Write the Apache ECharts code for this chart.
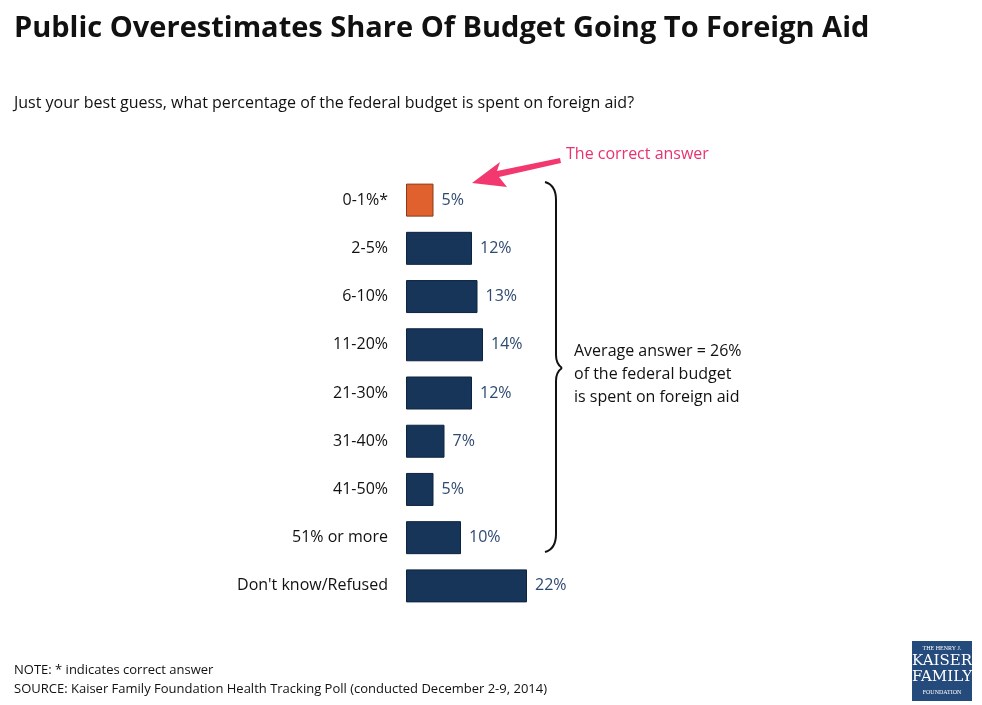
<!DOCTYPE html><html><head><meta charset="utf-8">
<script src="https://cdn.jsdelivr.net/npm/echarts@6/dist/echarts.min.js"></script>
<style>html,body{margin:0;padding:0;background:#fff}#c{width:982px;height:705px}</style></head><body><div id="c"></div>
<script>
const categories=['0-1%*','2-5%','6-10%','11-20%','21-30%','31-40%','41-50%','51% or more',"Don't know/Refused"];
const values=[5,12,13,14,12,7,5,10,22];
const correctIndex=0;
const font='"Open Sans", "Noto Sans", sans-serif';
const chart=echarts.init(document.getElementById('c'));
const st={stroke:'#111',lineWidth:2,fill:null};
chart.setOption({
 animation:false,
 grid:{left:406,top:176,width:220,height:434},
 xAxis:{type:'value',min:0,max:40,show:false},
 yAxis:{type:'category',data:categories,inverse:true,axisLine:{show:false},axisTick:{show:false},
  axisLabel:{color:'#111',fontSize:16,fontFamily:font,margin:18}},
 series:[{type:'bar',barWidth:33,
  data:values.map((v,i)=>({value:v,itemStyle:{color:i===correctIndex?'#e0602e':'#163558',borderColor:i===correctIndex?'#8a3a1a':'#0d2440',borderWidth:1}})),
  label:{show:true,position:'right',distance:8,formatter:'{c}%',color:'#2e4a70',fontSize:16,fontFamily:font}}],
 graphic:[
  {type:'text',x:14,y:14,style:{text:'Public Overestimates Share Of Budget Going To Foreign Aid',font:'bold 29px '+font,fill:'#111'}},
  {type:'text',x:14,y:95,style:{text:'Just your best guess, what percentage of the federal budget is spent on foreign aid?',font:'16px '+font,fill:'#111'}},
  {type:'text',x:566,y:146,style:{text:'The correct answer',font:'16px '+font,fill:'#e8336e'}},
  {type:'polygon',shape:{points:[[472,183],[500,162],[497,171],[560,158],[561,163],[499,177],[507,187]]},style:{fill:'#f2386f'}},
  {type:'bezierCurve',shape:{x1:545,y1:182,x2:556,y2:200,cpx1:556,cpy1:185},style:st},
  {type:'line',shape:{x1:556,y1:200,x2:556,y2:355},style:st},
  {type:'bezierCurve',shape:{x1:556,y1:355,x2:562,y2:368,cpx1:556,cpy1:364},style:st},
  {type:'bezierCurve',shape:{x1:562,y1:368,x2:556,y2:381,cpx1:556,cpy1:372},style:st},
  {type:'line',shape:{x1:556,y1:381,x2:556,y2:534},style:st},
  {type:'bezierCurve',shape:{x1:556,y1:534,x2:545,y2:552,cpx1:556,cpy1:549},style:st},
  {type:'text',x:574,y:340,style:{text:'Average answer = 26%\nof the federal budget\nis spent on foreign aid',font:'16px '+font,fill:'#111',lineHeight:23}},
  {type:'text',x:14,y:661,style:{text:'NOTE: * indicates correct answer\nSOURCE: Kaiser Family Foundation Health Tracking Poll (conducted December 2-9, 2014)',font:'13px '+font,fill:'#111',lineHeight:19}},
  {type:'rect',shape:{x:912,y:641,width:60,height:60},style:{fill:'#254a7c'}},
  {type:'text',x:942,y:645,style:{text:'THE HENRY J.',font:'6px serif',fill:'#fff',align:'center'}},
  {type:'text',x:942,y:653,style:{text:'KAISER\nFAMILY',font:'15px "DejaVu Serif", serif',fill:'#fff',align:'center',lineHeight:16}},
  {type:'text',x:942,y:689,style:{text:'FOUNDATION',font:'6px serif',fill:'#fff',align:'center'}}
 ]
});
</script></body></html>
